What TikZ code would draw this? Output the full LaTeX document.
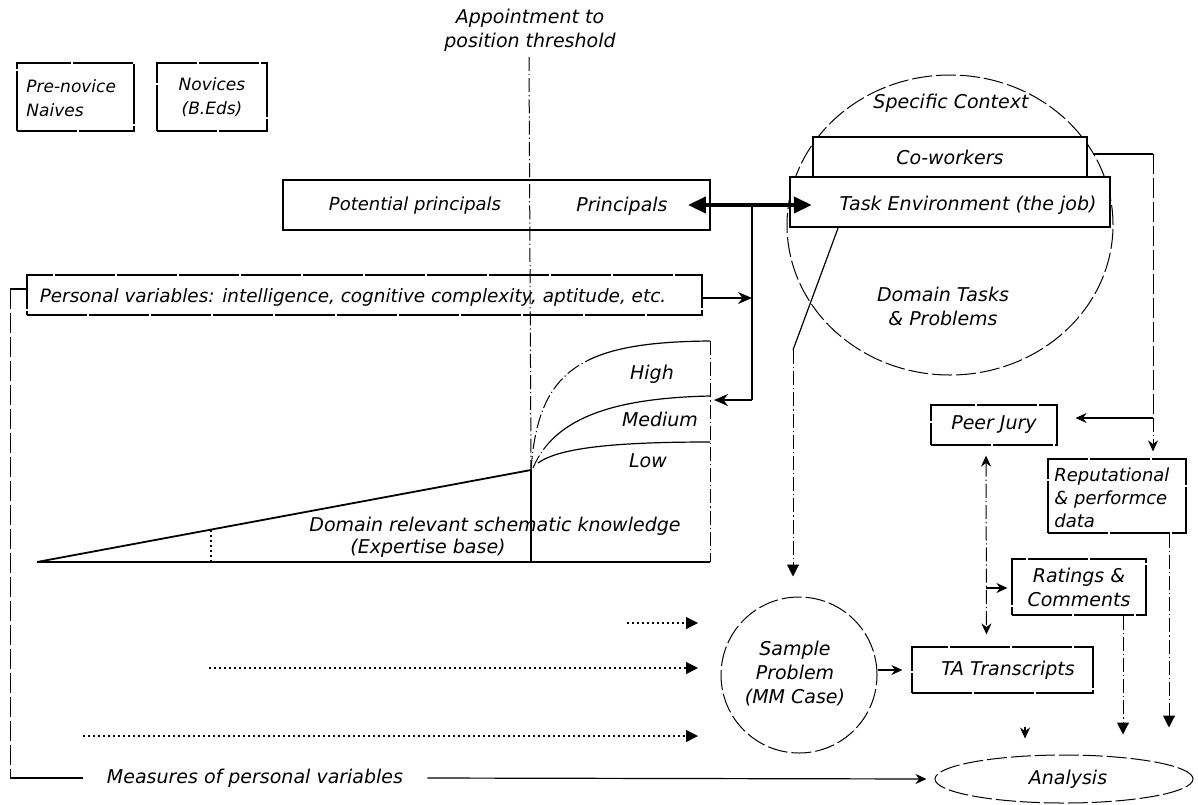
\documentclass[tikz,border=0pt]{standalone}
\usepackage{fontspec}
\setmainfont{DejaVu Sans}
\usetikzlibrary{arrows.meta,shapes.geometric,calc}
\begin{document}
\begin{tikzpicture}[x=0.5pt,y=-0.5pt,
  lbl/.style={font=\fontsize{9.5}{12}\selectfont\itshape, inner sep=1pt, align=center},
  sml/.style={font=\fontsize{8.5}{12}\selectfont\itshape, inner sep=1pt, align=center},
  thinbox/.style={draw, line width=0.6pt, dash pattern=on 30pt off 1pt, inner sep=0pt},
  boldbox/.style={draw, line width=1.2pt, inner sep=0pt},
  ddot/.style={line width=0.5pt, dash pattern=on 7pt off 1.5pt on 0.6pt off 1.5pt},
  ldash/.style={line width=0.5pt, dash pattern=on 10pt off 2pt},
  dots/.style={line width=0.6pt, dash pattern=on 1pt off 1.5pt},
  thin1/.style={line width=0.6pt},
  tip/.style={-{Stealth[length=5.5pt,width=5pt]}},
  btip/.style={-{Triangle[length=6pt,width=6pt]}},
]
\useasboundingbox (0,0) rectangle (1198,804);

% ---------- top left boxes
\node[thinbox, minimum width=58.5pt, minimum height=34pt] (prenov) at (75.5,97) {};
\node[sml, align=left, anchor=west] (prenovlbl) at (24,98) {Pre-novice\\Naives};
\node[thinbox, minimum width=55pt, minimum height=34pt, sml] (novice) at (212,97) {Novices\\(B.Eds)};

% ---------- threshold
\node[lbl] (appt) at (530,30) {Appointment to\\position threshold};
\coordinate (thrTop) at (529,57);
\coordinate (junc) at (531,470);

% ---------- principals box
\node[draw, line width=0.9pt, minimum width=213.5pt, minimum height=25pt] (princ) at (496.5,205) {};
\node[sml, font=\fontsize{9}{12}\selectfont\itshape] (potl) at (415,206) {Potential principals};
\node[lbl] (prinl) at (622,206) {Principals};

% ---------- context circle
\node[draw, ellipse, ldash, minimum width=163pt, minimum height=150pt, inner sep=0pt] (ctx) at (950,225) {};
\node[lbl] (spec) at (951,103) {Specific Context};
\node[boldbox, minimum width=137pt, minimum height=20pt, fill=white] (cowork) at (950,157) {};
\node[lbl] at (cowork) {Co-workers};
\node[boldbox, minimum width=160pt, minimum height=25pt, fill=white] (taskenv) at (950,202) {};
\node[lbl] (tasklbl) at (968,205) {Task Environment (the job)};
\node[lbl] (domain) at (943,306) {Domain Tasks\\\& Problems};

% ---------- personal variables
\node[thinbox, minimum width=337.5pt, minimum height=20pt] (pers) at (364.5,295) {};
\node[sml, font=\fontsize{9.2}{12}\selectfont\itshape] (perslbl) at (353,297) {Personal variables: intelligence, cognitive complexity, aptitude, etc.};

% ---------- expertise graph
\coordinate (b0) at (37,562);
\coordinate (b1) at (710,562);
\coordinate (hiEnd) at (710,341);
\coordinate (medEnd) at (710,396);
\coordinate (loEnd) at (710,442);
\draw[ddot] (thrTop) -- (junc);
\draw[thin1] (junc) -- (junc |- b0);
\draw[line width=0.9pt] (b0) -- (junc);
\draw[line width=0.9pt] (b0) -- (b1);
\draw[dots] (211,530) -- (211,562);
\draw[ddot] (hiEnd) -- (b1);
\begin{scope}
  \clip (588,300) rectangle (720,480);
  \draw[thin1] (junc) .. controls (538,370) and (580,342) .. (hiEnd);
\end{scope}
\begin{scope}
  \clip (520,300) rectangle (588,480);
  \draw[ddot] (junc) .. controls (538,370) and (580,342) .. (hiEnd);
\end{scope}
\begin{scope}
  \clip (550,300) rectangle (720,480);
  \draw[thin1] (533,468) .. controls (555,415) and (620,398) .. (medEnd);
\end{scope}
\begin{scope}
  \clip (520,300) rectangle (550,480);
  \draw[ddot] (533,468) .. controls (555,415) and (620,398) .. (medEnd);
\end{scope}
\draw[thin1] (538,463) .. controls (560,447) and (620,442) .. (loEnd);
\node[lbl] (high) at (652,374) {High};
\node[lbl] (med) at (660,419) {Medium};
\node[lbl] (low) at (648,461) {Low};
\node[lbl] (dk1) at (495,526) {Domain relevant schematic knowledge};
\node[lbl] (dk2) at (428,548) {(Expertise base)};

% ---------- principals <-> task environment
\draw[line width=2pt, {Triangle[length=9pt,width=8pt]}-{Triangle[length=9pt,width=8pt]}]
  ($(princ.east)+(-23,0)$) -- ($(taskenv.west |- princ.east)+(23,0)$);
\coordinate (j1) at (752,205);
\coordinate (j2) at (752,400);
\draw[line width=1pt] (j1) -- (j2);
\draw[line width=1pt, -{Stealth[length=7pt,width=6pt]}] (j2) -- (714,400);
\draw[line width=0.8pt, -{Stealth[length=7pt,width=6pt]}] (pers.east |- 0,298) -- (j1 |- 0,298);

% ---------- lower right nodes
\node[thinbox, minimum width=63pt, minimum height=20pt, lbl] (peer) at (994,425) {Peer Jury};
\node[thinbox, minimum width=69pt, minimum height=37pt] (reput) at (1117,496) {};
\node[lbl, align=left, anchor=west, font=\fontsize{9}{11.5}\selectfont\itshape] (reputlbl) at (1052,498) {Reputational\\\& performce\\data};
\node[thinbox, minimum width=67pt, minimum height=28pt, lbl] (ratings) at (1079,587) {Ratings \&\\Comments};
\node[thinbox, minimum width=90.5pt, minimum height=23pt] (ta) at (1002.5,670) {};
\node[lbl] (talbl) at (1008,670) {TA Transcripts};
\node[draw, circle, ldash, minimum size=78pt, inner sep=0pt] (sample) at (799,675) {};
\node[lbl] (samplelbl) at (795,674) {Sample\\Problem\\(MM Case)};
\node[draw, ellipse, ldash, minimum width=129pt, minimum height=24pt, inner sep=0pt] (analysis) at (1064,779) {};
\node[lbl] (analysislbl) at (1068,779) {Analysis};

% ---------- task env -> sample
\coordinate (bend) at (793,350);
\draw[thin1] ($(taskenv.south)+(-112,0)$) -- (bend);
\draw[ddot, btip, shorten >=10pt] (bend) -- (bend |- sample.north);

% ---------- co-workers -> peer jury / reputational
\coordinate (cwA) at (1153,154);
\coordinate (cwB) at (1153,418);
\draw[thin1] ($(cowork.east)+(6,-3)$) -- (cwA);
\draw[ldash] (cwA) -- (cwB);
\draw[thin1, tip, shorten >=9pt] (cwB) -- (cwB -| peer.east);
\draw[ddot, tip, shorten >=3.5pt] (cwB) -- (cwB |- reput.north);

% ---------- peer jury <-> TA, ratings
\draw[ddot, {Stealth[length=5.5pt,width=5pt]}-{Stealth[length=5.5pt,width=5pt]}, shorten <=5pt, shorten >=6pt]
  ([xshift=-4pt]peer.south) -- ([xshift=-8pt]ta.north);
\coordinate (rv) at (986,588);
\draw[thin1, tip, shorten >=2pt] (rv) -- (ratings.west |- rv);

% ---------- sample -> TA
\draw[thin1, tip, shorten >=4.5pt] (sample.east |- ta.west) -- (ta.west);

% ---------- into analysis
\coordinate (aa) at (1025,727);
\draw[thin1, tip, shorten >=8pt] (aa) -- (aa |- analysis.north);
\draw[ddot, btip, shorten >=10pt] ([xshift=22pt]ratings.south) -- ([xshift=22pt]ratings.south |- analysis.north);
\draw[ddot, btip, shorten >=13.5pt] ([xshift=26pt]reput.south) -- ([xshift=26pt]reput.south |- analysis.north);

% ---------- measures of personal variables
\coordinate (mT) at (10,289);
\coordinate (mL) at (10,778);
\node[lbl, inner xsep=12pt] (meas) at (255,778) {Measures of personal variables};
\draw[thin1] (pers.west |- mT) -- (mT);
\draw[ldash] (mT) -- (mL);
\draw[thin1] (mL) -- (meas.west);
\draw[thin1, tip, shorten >=4pt] (meas.east) -- (analysis.west);

% ---------- dotted arrows toward sample problem
\coordinate (d1s) at (627,623); \coordinate (d1e) at (698,623);
\coordinate (d2s) at (209,668); \coordinate (d2e) at (698,668);
\coordinate (d3s) at (83,736);  \coordinate (d3e) at (698,736);
\draw[dots, btip] (d1s) -- (d1e);
\draw[dots, btip] (d2s) -- (d2e);
\draw[dots, btip] (d3s) -- (d3e);
\end{tikzpicture}
\end{document}
